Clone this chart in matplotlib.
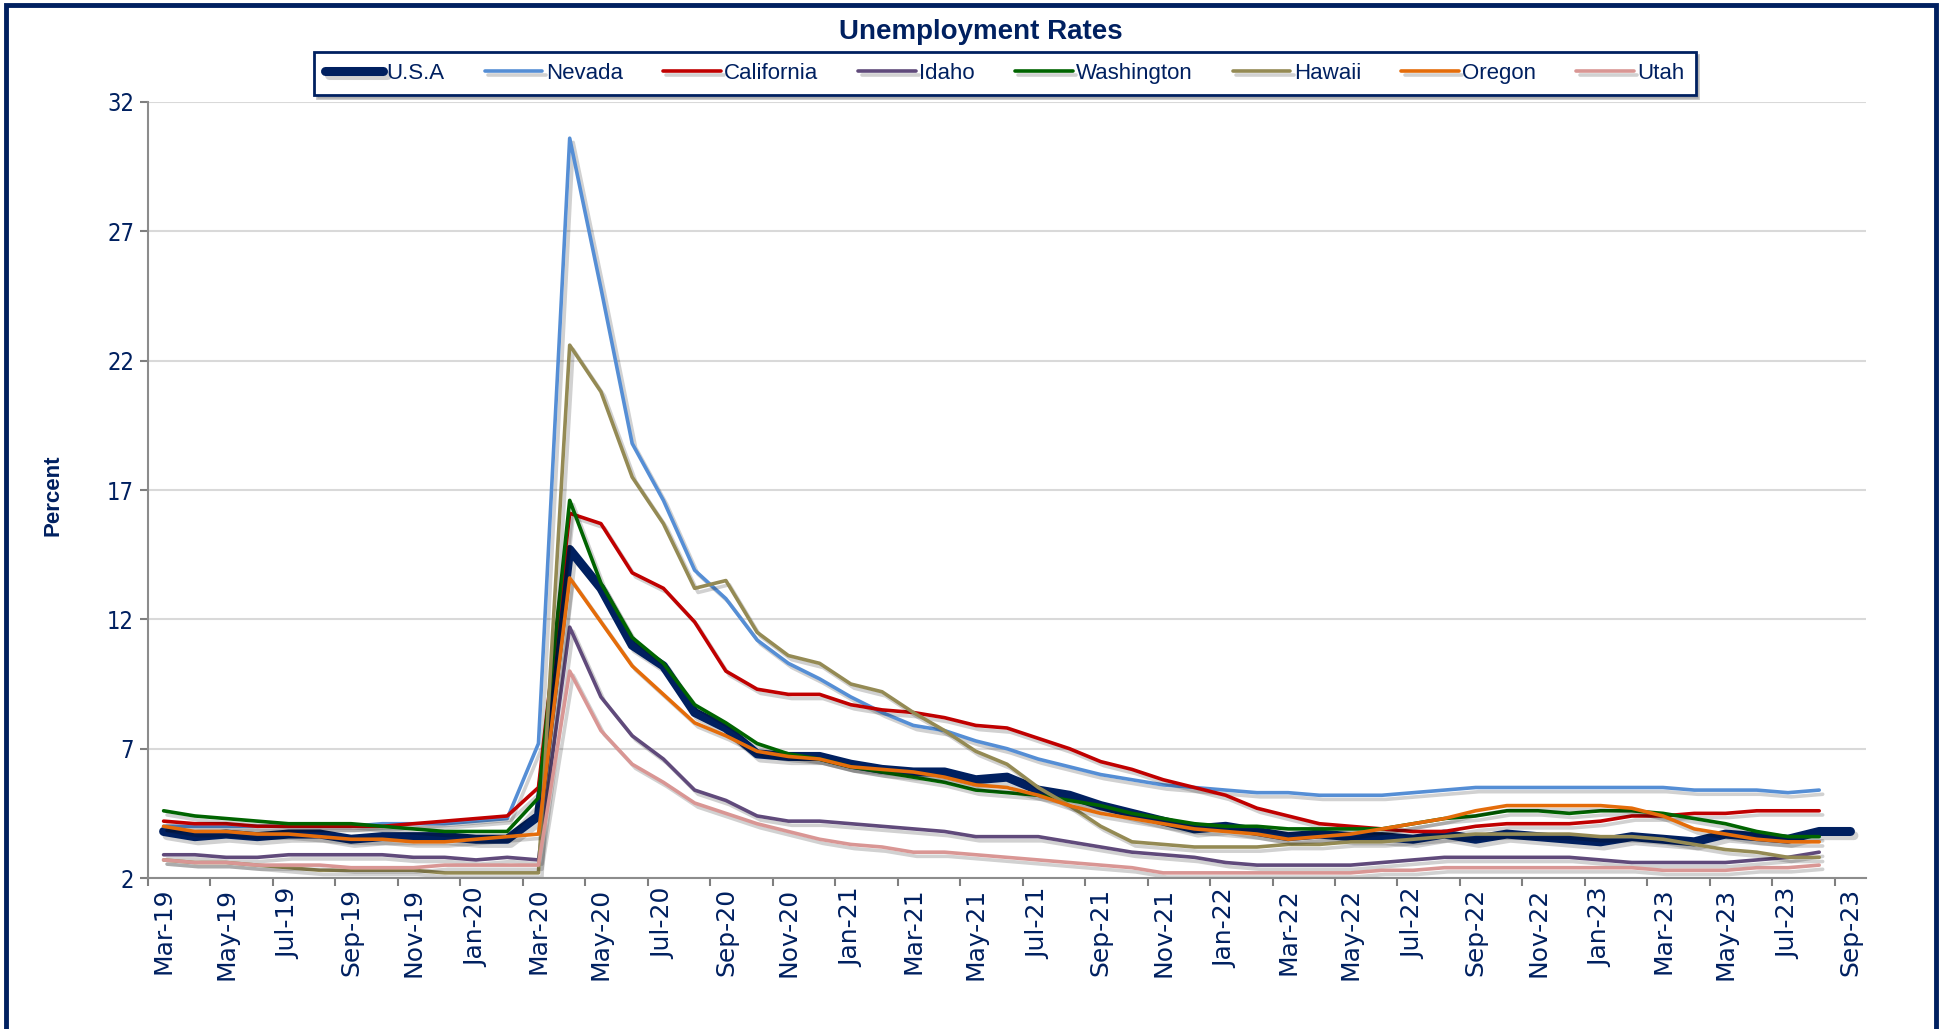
import numpy as np
import pandas as pd
import matplotlib
matplotlib.use("Agg")
import matplotlib.pyplot as plt
import matplotlib.patheffects as pe
from matplotlib.patches import Rectangle

# monthly rates, Mar-2019 onwards (USA runs one month longer, to Sep-2023)
months = pd.date_range("2019-03-01", "2023-09-01", freq="MS")
month_labels = [m.strftime("%b-%y") for m in months]

usa = [3.8, 3.6, 3.7, 3.6, 3.7, 3.7, 3.5, 3.6, 3.6, 3.6, 3.5, 3.5,
       4.4, 14.7, 13.2, 11.0, 10.2, 8.4, 7.8, 6.8, 6.7, 6.7, 6.4, 6.2,
       6.1, 6.1, 5.8, 5.9, 5.4, 5.2, 4.8, 4.5, 4.2, 3.9, 4.0, 3.8,
       3.6, 3.7, 3.6, 3.6, 3.5, 3.7, 3.5, 3.7, 3.6, 3.5, 3.4, 3.6,
       3.5, 3.4, 3.7, 3.6, 3.5, 3.8, 3.8]
nevada = [4.0, 4.0, 4.0, 4.0, 4.0, 4.0, 4.0, 4.1, 4.1, 4.1, 4.2, 4.3,
          7.2, 30.6, 24.8, 18.8, 16.6, 13.9, 12.8, 11.2, 10.3, 9.7, 9.0, 8.4,
          7.9, 7.7, 7.3, 7.0, 6.6, 6.3, 6.0, 5.8, 5.6, 5.5, 5.4, 5.3,
          5.3, 5.2, 5.2, 5.2, 5.3, 5.4, 5.5, 5.5, 5.5, 5.5, 5.5, 5.5,
          5.5, 5.4, 5.4, 5.4, 5.3, 5.4]
california = [4.2, 4.1, 4.1, 4.0, 4.0, 4.0, 4.0, 4.0, 4.1, 4.2, 4.3, 4.4,
              5.5, 16.1, 15.7, 13.8, 13.2, 11.9, 10.0, 9.3, 9.1, 9.1, 8.7, 8.5,
              8.4, 8.2, 7.9, 7.8, 7.4, 7.0, 6.5, 6.2, 5.8, 5.5, 5.2, 4.7,
              4.4, 4.1, 4.0, 3.9, 3.8, 3.8, 4.0, 4.1, 4.1, 4.1, 4.2, 4.4,
              4.4, 4.5, 4.5, 4.6, 4.6, 4.6]
idaho = [2.9, 2.9, 2.8, 2.8, 2.9, 2.9, 2.9, 2.9, 2.8, 2.8, 2.7, 2.8,
         2.7, 11.7, 9.0, 7.5, 6.6, 5.4, 5.0, 4.4, 4.2, 4.2, 4.1, 4.0,
         3.9, 3.8, 3.6, 3.6, 3.6, 3.4, 3.2, 3.0, 2.9, 2.8, 2.6, 2.5,
         2.5, 2.5, 2.5, 2.6, 2.7, 2.8, 2.8, 2.8, 2.8, 2.8, 2.7, 2.6,
         2.6, 2.6, 2.6, 2.7, 2.8, 3.0]
washington = [4.6, 4.4, 4.3, 4.2, 4.1, 4.1, 4.1, 4.0, 3.9, 3.8, 3.8, 3.8,
              5.1, 16.6, 13.4, 11.3, 10.3, 8.7, 8.0, 7.2, 6.8, 6.6, 6.3, 6.1,
              5.9, 5.7, 5.4, 5.3, 5.2, 5.0, 4.8, 4.5, 4.3, 4.1, 4.0, 4.0,
              3.9, 3.9, 3.9, 3.9, 4.1, 4.3, 4.4, 4.6, 4.6, 4.5, 4.6, 4.6,
              4.5, 4.3, 4.1, 3.8, 3.6, 3.6]
hawaii = [2.7, 2.6, 2.6, 2.5, 2.4, 2.3, 2.3, 2.3, 2.3, 2.2, 2.2, 2.2,
          2.2, 22.6, 20.8, 17.5, 15.7, 13.2, 13.5, 11.5, 10.6, 10.3, 9.5, 9.2,
          8.4, 7.7, 6.9, 6.4, 5.5, 4.8, 4.0, 3.4, 3.3, 3.2, 3.2, 3.2,
          3.3, 3.3, 3.4, 3.4, 3.5, 3.6, 3.7, 3.7, 3.7, 3.7, 3.6, 3.6,
          3.5, 3.3, 3.1, 3.0, 2.8, 2.8]
oregon = [4.0, 3.8, 3.8, 3.7, 3.7, 3.6, 3.5, 3.5, 3.4, 3.4, 3.5, 3.6,
          3.7, 13.6, 11.9, 10.2, 9.1, 8.0, 7.5, 6.9, 6.7, 6.6, 6.3, 6.2,
          6.1, 5.9, 5.6, 5.5, 5.2, 4.8, 4.5, 4.3, 4.1, 3.9, 3.8, 3.7,
          3.5, 3.6, 3.7, 3.9, 4.1, 4.3, 4.6, 4.8, 4.8, 4.8, 4.8, 4.7,
          4.4, 3.9, 3.7, 3.5, 3.4, 3.4]
utah = [2.7, 2.6, 2.6, 2.5, 2.5, 2.5, 2.4, 2.4, 2.4, 2.5, 2.5, 2.5,
        2.5, 10.0, 7.7, 6.4, 5.7, 4.9, 4.5, 4.1, 3.8, 3.5, 3.3, 3.2,
        3.0, 3.0, 2.9, 2.8, 2.7, 2.6, 2.5, 2.4, 2.2, 2.2, 2.2, 2.2,
        2.2, 2.2, 2.2, 2.3, 2.3, 2.4, 2.4, 2.4, 2.4, 2.4, 2.4, 2.4,
        2.3, 2.3, 2.3, 2.4, 2.4, 2.5]

series = [
    ("U.S.A", usa, "#002060", 6.5),
    ("Nevada", nevada, "#558ED5", 2.6),
    ("California", california, "#C00000", 2.6),
    ("Idaho", idaho, "#604A7B", 2.6),
    ("Washington", washington, "#006400", 2.6),
    ("Hawaii", hawaii, "#948A54", 2.6),
    ("Oregon", oregon, "#E46C0A", 2.6),
    ("Utah", utah, "#D99694", 2.6),
]

NAVY = "#002060"
narrow = ["Liberation Sans Narrow", "Liberation Sans", "DejaVu Sans"]
plt.rcParams["font.family"] = ["DejaVu Sans"]

fig = plt.figure(figsize=(19.42, 10.29), dpi=100)
ax = fig.add_axes([0.0762, 0.1467, 0.8847, 0.7542])

# outer frame
fig.patches.append(Rectangle((0.003, -0.05), 0.994, 1.045, transform=fig.transFigure,
                             fill=False, edgecolor=NAVY, linewidth=3.5, zorder=0))

handles = []
for name, vals, color, lw in series:
    x = np.arange(len(vals))
    shadow = pe.SimpleLineShadow(offset=(2.5, -3), shadow_color="k", alpha=0.18)
    line, = ax.plot(x, vals, color=color, linewidth=lw, label=name,
                    solid_capstyle="round", solid_joinstyle="round",
                    path_effects=[shadow, pe.Normal()])
    handles.append(line)

ax.set_xlim(-0.5, len(months) - 0.5)
ax.set_ylim(2, 32)
ax.set_yticks([2, 7, 12, 17, 22, 27, 32])
ax.grid(axis="y", color="#D9D9D9", linewidth=1.5)
ax.set_axisbelow(True)

# labels sit on the months, tick marks between them every two months
ax.set_xticks(np.arange(0, len(months), 2))
ax.set_xticklabels(month_labels[::2], rotation=90)
ax.set_xticks(np.arange(-0.5, len(months) - 1, 2), minor=True)
ax.tick_params(axis="x", which="major", length=0, pad=7, labelsize=18, labelcolor=NAVY)
ax.tick_params(axis="x", which="minor", length=6, width=1.5, color="#7F7F7F")
ax.tick_params(axis="y", length=6, width=1.5, color="#7F7F7F", pad=4,
               labelsize=17, labelcolor=NAVY)
for t in ax.get_yticklabels():
    t.set_fontstretch("condensed")

for side in ("top", "right"):
    ax.spines[side].set_visible(False)
for side in ("left", "bottom"):
    ax.spines[side].set_color("#8C8C8C")
    ax.spines[side].set_linewidth(1.5)

fig.text(0.505, 0.969, "Unemployment Rates", ha="center", va="center",
         fontsize=20, fontweight="bold", color=NAVY, family=narrow)
fig.text(0.0275, 0.519, "Percent", ha="center", va="center", rotation=90,
         fontsize=16, fontweight="bold", color=NAVY, family=narrow)

leg = fig.legend(handles=handles, loc="center", bbox_to_anchor=(0.5175, 0.9286),
                 ncol=8, frameon=True, fancybox=False, shadow={"color": "0.55", "alpha": 0.5},
                 handlelength=2.6, handletextpad=0.15, columnspacing=1.8,
                 borderpad=0.5, prop={"family": narrow, "size": 16})
leg.get_frame().set_edgecolor(NAVY)
leg.get_frame().set_linewidth(2)
for t in leg.get_texts():
    t.set_color(NAVY)

fig.savefig("out.png", dpi=100)
